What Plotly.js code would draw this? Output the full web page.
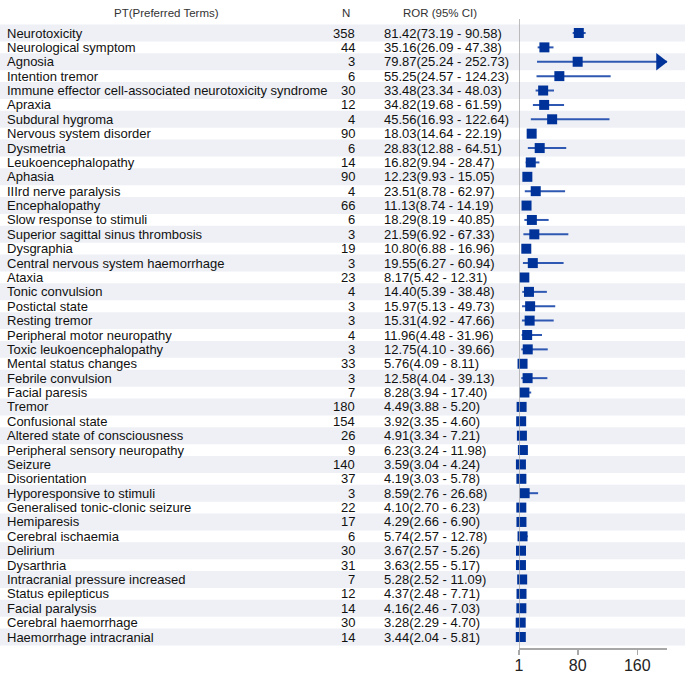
<!DOCTYPE html>
<html>
<head>
<meta charset="utf-8">
<script src="https://cdn.plot.ly/plotly-3.0.1.min.js"></script>
<style>html,body{margin:0;padding:0;background:#fff;}#chart{width:685px;height:675px;}</style>
</head>
<body>
<div id="chart"></div>
<script>
var terms = ["Neurotoxicity","Neurological symptom","Agnosia","Intention tremor","Immune effector cell-associated neurotoxicity syndrome","Apraxia","Subdural hygroma","Nervous system disorder","Dysmetria","Leukoencephalopathy","Aphasia","IIIrd nerve paralysis","Encephalopathy","Slow response to stimuli","Superior sagittal sinus thrombosis","Dysgraphia","Central nervous system haemorrhage","Ataxia","Tonic convulsion","Postictal state","Resting tremor","Peripheral motor neuropathy","Toxic leukoencephalopathy","Mental status changes","Febrile convulsion","Facial paresis","Tremor","Confusional state","Altered state of consciousness","Peripheral sensory neuropathy","Seizure","Disorientation","Hyporesponsive to stimuli","Generalised tonic-clonic seizure","Hemiparesis","Cerebral ischaemia","Delirium","Dysarthria","Intracranial pressure increased","Status epilepticus","Facial paralysis","Cerebral haemorrhage","Haemorrhage intracranial"];
var nCases = [358,44,3,6,30,12,4,90,6,14,90,4,66,6,3,19,3,23,4,3,3,4,3,33,3,7,180,154,26,9,140,37,3,22,17,6,30,31,7,12,14,30,14];
var ror = [81.42,35.16,79.87,55.25,33.48,34.82,45.56,18.03,28.83,16.82,12.23,23.51,11.13,18.29,21.59,10.80,19.55,8.17,14.40,15.97,15.31,11.96,12.75,5.76,12.58,8.28,4.49,3.92,4.91,6.23,3.59,4.19,8.59,4.10,4.29,5.74,3.67,3.63,5.28,4.37,4.16,3.28,3.44];
var lower = [73.19,26.09,25.24,24.57,23.34,19.68,16.93,14.64,12.88,9.94,9.93,8.78,8.74,8.19,6.92,6.88,6.27,5.42,5.39,5.13,4.92,4.48,4.10,4.09,4.04,3.94,3.88,3.35,3.34,3.24,3.04,3.03,2.76,2.70,2.66,2.57,2.57,2.55,2.52,2.48,2.46,2.29,2.04];
var upper = [90.58,47.38,252.73,124.23,48.03,61.59,122.64,22.19,64.51,28.47,15.05,62.97,14.19,40.85,67.33,16.96,60.94,12.31,38.48,49.73,47.66,31.96,39.66,8.11,39.13,17.40,5.20,4.60,7.21,11.98,4.24,5.78,26.68,6.23,6.90,12.78,5.26,5.17,11.09,7.71,7.03,4.70,5.81];
var tickVals = [1, 80, 160];
var headers = ["PT(Preferred Terms)", "N", "ROR (95% CI)"];

var W = 685, H = 675;
var xMin = 1, xMax = 200;
var plotL = 519, plotR = 667;
var rowIdx = terms.map(function(_, i){ return i; });

var segX = [], segY = [];
var arrowX = [], arrowY = [];
var pxPerUnit = (plotR - plotL) / (xMax - xMin);
for (var i = 0; i < terms.length; i++) {
  segX.push(lower[i], Math.min(upper[i], xMax), null);
  segY.push(i, i, null);
  if (upper[i] > xMax) { arrowX.push(xMax - 7 / pxPerUnit); arrowY.push(i); }
}

var font = "Liberation Sans, Arial, sans-serif";
var annotations = [];
function px(x){ return x / W; }
for (var i = 0; i < terms.length; i++) {
  annotations.push({xref:'paper', yref:'y', x:px(5), y:i, text:terms[i], showarrow:false, xanchor:'left', yanchor:'middle', font:{family:font, size:13, color:'#111'}});
  annotations.push({xref:'paper', yref:'y', x:px(357), y:i, text:String(nCases[i]), showarrow:false, xanchor:'right', yanchor:'middle', font:{family:font, size:13, color:'#111'}});
  annotations.push({xref:'paper', yref:'y', x:px(382), y:i, text:ror[i].toFixed(2) + '(' + lower[i].toFixed(2) + ' - ' + upper[i].toFixed(2) + ')', showarrow:false, xanchor:'left', yanchor:'middle', font:{family:font, size:13, color:'#111'}});
}
var headerX = [166, 346, 440];
for (var h = 0; h < headers.length; h++) {
  annotations.push({xref:'paper', yref:'paper', x:px(headerX[h]), y:(648-13)/628, text:headers[h], showarrow:false, xanchor:'center', yanchor:'middle', font:{family:font, size:11.5, color:'#333'}});
}

var shapes = [];
for (var i = 0; i < terms.length; i += 2) {
  shapes.push({type:'rect', xref:'paper', yref:'y', x0:0, x1:1, y0:i-0.59, y1:i+0.59, fillcolor:'#eef0f5', line:{width:0}, layer:'below'});
}
shapes.push({type:'line', xref:'x', yref:'paper', x0:1, x1:1, y0:0, y1:1.0016, line:{color:'#a8a8a8', width:1.5}, layer:'above'});

var traces = [
  {type:'scatter', mode:'lines', x:segX, y:segY, line:{color:'#2f58b3', width:2}, hoverinfo:'skip', showlegend:false},
  {type:'scatter', mode:'markers', x:ror, y:rowIdx, marker:{symbol:'square', size:10, color:'#003399'}, cliponaxis:false, showlegend:false},
  {type:'scatter', mode:'markers', x:arrowX, y:arrowY, marker:{symbol:'triangle-right', size:15, color:'#003399'}, cliponaxis:false, showlegend:false}
];

var layout = {
  width: W, height: H,
  margin: {l:0, r:0, t:20, b:27},
  paper_bgcolor:'#fff', plot_bgcolor:'rgba(0,0,0,0)',
  showlegend:false,
  xaxis: {domain:[plotL/W, plotR/W], range:[xMin, xMax], tickvals:tickVals, ticktext:tickVals.map(String), showgrid:false, zeroline:false, showline:true, linecolor:'#a8a8a8', linewidth:1.5, ticks:'outside', ticklen:5, tickcolor:'#a8a8a8', tickwidth:1.5, ticklabelstandoff:-3, tickfont:{family:font, size:16, color:'#222'}},
  yaxis: {range:[42.765, -0.904], showgrid:false, zeroline:false, showline:false, showticklabels:false, ticks:''},
  shapes: shapes,
  annotations: annotations
};

Plotly.newPlot('chart', traces, layout, {displayModeBar:false, staticPlot:true});
</script>
</body>
</html>
